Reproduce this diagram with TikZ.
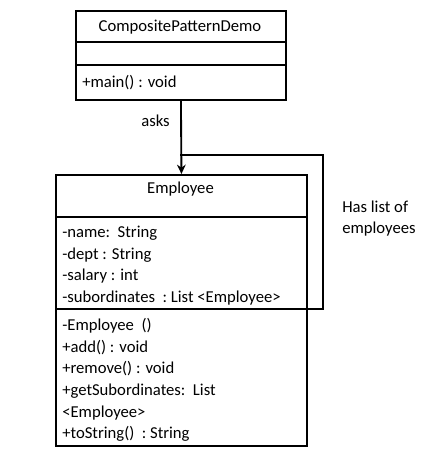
\documentclass[tikz,border=0pt]{standalone}
\usepackage{fontspec}
\setmainfont{Carlito}
\usetikzlibrary{arrows.meta,positioning}
\tikzset{
  umlbox/.style={draw, line width=1.4pt, inner sep=0pt, anchor=north west},
  member/.style={anchor=base west, inner sep=0pt, font=\fontsize{12.5}{15}\selectfont},
  title/.style={anchor=base, inner sep=0pt, font=\fontsize{12.5}{15}\selectfont},
  sep/.style={line width=1.4pt},
  link/.style={line width=1.4pt}
}

\begin{document}
\begin{tikzpicture}[x=0.75pt, y=-0.75pt]
			%%%%% START %%%%%
			\useasboundingbox (0, 0) rectangle (444, 463);
			
			% demo class
			\node[umlbox, minimum width=157.5pt, minimum height=66.75pt] (demo) at (75, 10) {};
			\draw[sep] (demo.west |- 0, 42) -- (demo.east |- 0, 42);
			\draw[sep] (demo.west |- 0, 65) -- (demo.east |- 0, 65);
			\node[title] (demoname) at (180, 32) {CompositePatternDemo};
			\node[member] (demomain) at (82, 88) {+main() : void};
			
			% employee class
			\node[umlbox, minimum width=188.25pt, minimum height=203.25pt] (emp) at (55, 174) {};
			\draw[sep] (emp.west |- 0, 217) -- (emp.east |- 0, 217);
			\draw[sep] (emp.west |- 0, 309) -- (emp.east |- 0, 309);
			\node[title] (empname) at (180.5, 194) {Employee};
			
			\node[member] (attname) at (62, 237.5) {-name:\ \ String};
			\node[member] (attdept) at (62, 259) {-dept : String};
			\node[member] (attsal) at (62, 280.5) {-salary : int};
			\node[member] (attsub) at (62, 302) {-subordinates\ \ :\ List\ <Employee>};
			
			\node[member] (opemp) at (62, 330) {-Employee\ \ ()};
			\node[member] (opadd) at (62, 352) {+add() : void};
			\node[member] (oprem) at (62, 373) {+remove() : void};
			\node[member] (opget) at (62, 395) {+getSubordinates:\ \ List};
			\node[member] (opget2) at (62, 417) {<Employee>};
			\node[member] (opstr) at (62, 438) {+toString()\ \ :\ String};
			
			% connectors
			\draw[link, -{Stealth[length=7pt, width=6.5pt]}] (demo.south) -- (emp.north);
			\node[member] (asks) at (141, 127) {asks};
			
			\coordinate (split) at (180, 155);
			\coordinate (loopend) at (323, 309);
			\draw[link] (split) -| (loopend) -- (emp.east |- loopend);
			\node[member] (has1) at (342, 212) {Has list of};
			\node[member] (has2) at (342, 233) {employees};
			%%%%% END %%%%%
\end{tikzpicture}
\end{document}
